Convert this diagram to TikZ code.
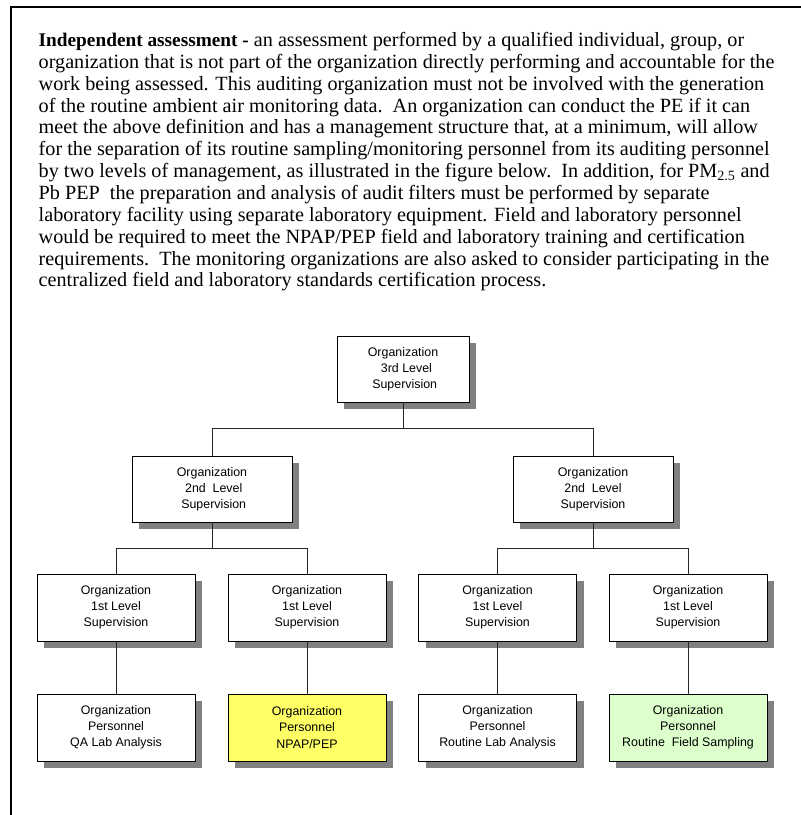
\documentclass[tikz,border=0pt]{standalone}
\usepackage{fontspec}
\setmainfont{Liberation Serif}
\newfontfamily\boxfont{Liberation Sans}
\usetikzlibrary{shadows}
\begin{document}
\begin{tikzpicture}[x=1pt,y=-1pt,
  para/.style={anchor=base west,inner sep=0pt,font=\fontsize{20.2}{22}\selectfont},
  orgbox/.style={draw=black,line width=0.8pt,fill=white,minimum width=158pt,minimum height=67pt,
    align=center,inner sep=2pt,font=\boxfont\fontsize{12.4}{16}\selectfont,
    drop shadow={shadow xshift=7pt,shadow yshift=-7pt,fill=black!50,opacity=1}},
  link/.style={draw=black!85,line width=0.8pt}]
\useasboundingbox (0,0) rectangle (801,815);
% page frame: left and top rules
\draw[line width=2pt] (11,815) -- (11,7) -- (801,7);
% definition paragraph
\def\lsk{21.85}
\node[para] (p1) at (38.5,46.5) {{\fontsize{19.3}{22}\selectfont\bfseries Independent assessment -} an assessment performed by a qualified individual, group, or};
\node[para] (p2) at (38.5,46.5+\lsk) {organization that is not part of the organization directly performing and accountable for the};
\node[para] (p3) at (38.5,46.5+2*\lsk) {work being assessed. This auditing organization must not be involved with the generation};
\node[para] (p4) at (38.5,46.5+3*\lsk) {of the routine ambient air monitoring data.\ \ An organization can conduct the PE if it can};
\node[para] (p5) at (38.5,46.5+4*\lsk) {meet the above definition and has a management structure that, at a minimum, will allow};
\node[para] (p6) at (38.5,46.5+5*\lsk) {for the separation of its routine sampling/monitoring personnel from its auditing personnel};
\node[para] (p7) at (38.5,46.5+6*\lsk) {by two levels of management, as illustrated in the figure below.\ \ In addition, for PM\textsubscript{2.5} and};
\node[para] (p8) at (38.5,46.5+7*\lsk) {Pb PEP\ \ the preparation and analysis of audit filters must be performed by separate};
\node[para] (p9) at (38.5,46.5+8*\lsk) {laboratory facility using separate laboratory equipment. Field and laboratory personnel};
\node[para] (p10) at (38.5,46.5+9*\lsk) {would be required to meet the NPAP/PEP field and laboratory training and certification};
\node[para] (p11) at (38.5,46.5+10*\lsk) {requirements.\ \ The monitoring organizations are also asked to consider participating in the};
\node[para] (p12) at (38.5,46.5+11*\lsk) {centralized field and laboratory standards certification process.};
% organization chart
\node[orgbox,minimum width=132pt,minimum height=66pt] (top) at (403,369) {Organization\\\ \ 3rd Level\\\ Supervision};
\node[orgbox,minimum width=160pt,minimum height=66pt] (sL) at (212,489) {Organization\\\ 2nd\ \ Level\\\ Supervision};
\node[orgbox,minimum width=160pt,minimum height=66pt] (sR) at (593,489) {Organization\\2nd\ \ Level\\Supervision};
\node[orgbox] (f1) at (116,607.5) {Organization\\1st Level\\Supervision};
\node[orgbox] (f2) at (307,607.5) {Organization\\1st Level\\Supervision};
\node[orgbox] (f3) at (497.5,607.5) {Organization\\1st Level\\Supervision};
\node[orgbox] (f4) at (688,607.5) {Organization\\1st Level\\Supervision};
\node[orgbox] (b1) at (116,727.5) {Organization\\Personnel\\QA Lab Analysis};
\node[orgbox,fill={rgb,255:red,255;green,255;blue,102}] (b2) at (307,727.5) {Organization\\Personnel\\[1pt]NPAP/PEP};
\node[orgbox] (b3) at (497.5,727.5) {Organization\\Personnel\\Routine Lab Analysis};
\node[orgbox,fill={rgb,255:red,221;green,255;blue,204}] (b4) at (688,727.5) {Organization\\Personnel\\Routine\ \ Field Sampling};
% connector buses
\coordinate (bus0) at (403,428.5);
\coordinate (busL) at (212,548.5);
\coordinate (busR) at (593,548.5);
\draw[link] (top.south) -- (bus0);
\draw[link] (bus0) -| (sL.north);
\draw[link] (bus0) -| (sR.north);
\draw[link] (sL.south) -- (busL);
\draw[link] (busL) -| (f1.north);
\draw[link] (busL) -| (f2.north);
\draw[link] (sR.south) -- (busR);
\draw[link] (busR) -| (f3.north);
\draw[link] (busR) -| (f4.north);
\draw[link] (f1.south) -- (b1.north);
\draw[link] (f2.south) -- (b2.north);
\draw[link] (f3.south) -- (b3.north);
\draw[link] (f4.south) -- (b4.north);
\end{tikzpicture}
\end{document}
